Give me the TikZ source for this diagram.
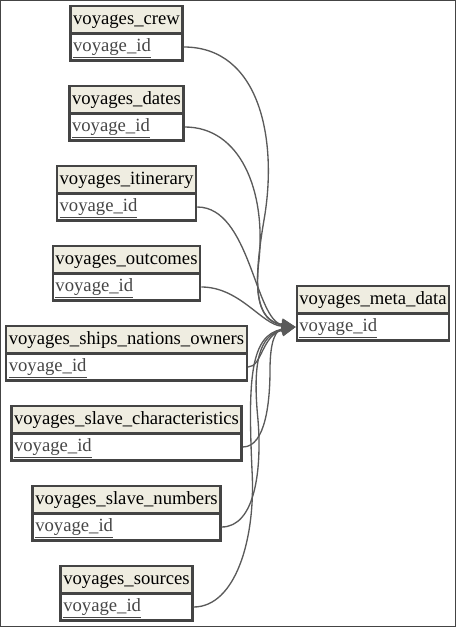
\documentclass[tikz,border=0pt]{standalone}
\usepackage{fontspec}
\setmainfont{Liberation Serif}
\usetikzlibrary{shapes.multipart,arrows.meta}

\definecolor{tablehead}{RGB}{239,237,225}
\definecolor{tableline}{RGB}{68,68,68}
\definecolor{edgeline}{RGB}{90,90,90}
\definecolor{keytext}{RGB}{70,70,70}

\tikzset{
  table/.style={rectangle split, rectangle split parts=2,
    rectangle split part align=left,
    rectangle split part fill={tablehead,white},
    draw=tableline, line width=1.8pt, inner xsep=2pt, inner ysep=0.9pt,
    font=\fontsize{14}{16.8}\selectfont, anchor=north},
  fk/.style={draw=edgeline, line width=1pt, -{Triangle[length=10.5pt,width=9pt]}}
}

\begin{document}
\begin{tikzpicture}[x=0.75pt,y=-0.75pt]
            \useasboundingbox (0,0) rectangle (456,627);
            \draw[tableline, line width=0.75pt] (0.5,0.5) rectangle (455.5,626.5);

            % tables
            \node[table] (crew) at (126.5,5) {\strut voyages\_crew \nodepart{two} \strut\textcolor{keytext}{\underline{voyage\_id}}};
            \node[table] (dates) at (126.5,85) {\strut voyages\_dates \nodepart{two} \strut\textcolor{keytext}{\underline{voyage\_id}}};
            \node[table] (itinerary) at (126.5,165) {\strut voyages\_itinerary \nodepart{two} \strut\textcolor{keytext}{\underline{voyage\_id}}};
            \node[table] (outcomes) at (126.5,245) {\strut voyages\_outcomes \nodepart{two} \strut\textcolor{keytext}{\underline{voyage\_id}}};
            \node[table] (ships) at (126.5,325) {\strut voyages\_ships\_nations\_owners \nodepart{two} \strut\textcolor{keytext}{\underline{voyage\_id}}};
            \node[table] (traits) at (126.5,405) {\strut voyages\_slave\_characteristics \nodepart{two} \strut\textcolor{keytext}{\underline{voyage\_id}}};
            \node[table] (numbers) at (126.5,485) {\strut voyages\_slave\_numbers \nodepart{two} \strut\textcolor{keytext}{\underline{voyage\_id}}};
            \node[table] (sources) at (126.5,565) {\strut voyages\_sources \nodepart{two} \strut\textcolor{keytext}{\underline{voyage\_id}}};
            \node[table] (meta) at (373,285) {\strut voyages\_meta\_data \nodepart{two} \strut\textcolor{keytext}{\underline{voyage\_id}}};

            % foreign keys
            \draw[fk] (crew.two east) .. controls (260,47) and (278,140) .. (264,220) .. controls (252,290) and (256,320) .. (meta.two west);
            \draw[fk] (dates.two east) .. controls (240,127) and (266,190) .. (259,260) .. controls (254,300) and (262,322) .. (meta.two west);
            \draw[fk] (itinerary.two east) .. controls (250,207) and (255,320) .. (meta.two west);
            \draw[fk] (outcomes.two east) .. controls (240,287) and (262,325) .. (meta.two west);
            \draw[fk] (ships.two east) .. controls (262,367) and (262,335) .. (meta.two west);
            \draw[fk] (traits.two east) .. controls (266,447) and (270,400) .. (270,370) .. controls (270,340) and (276,330) .. (meta.two west);
            \draw[fk] (numbers.two east) .. controls (255,527) and (262,470) .. (258,420) .. controls (252,360) and (260,335) .. (meta.two west);
            \draw[fk] (sources.two east) .. controls (235,607) and (256,540) .. (252,470) .. controls (248,380) and (250,335) .. (meta.two west);
        \end{tikzpicture}
\end{document}
